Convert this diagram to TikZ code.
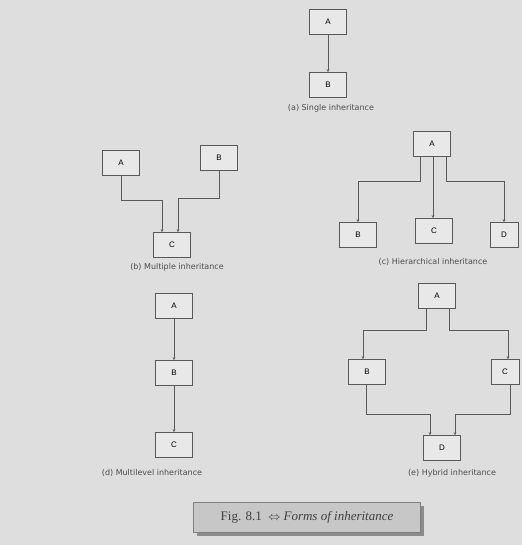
\documentclass[tikz,border=0pt]{standalone}
\usepackage{fontspec}
\setmainfont{Liberation Sans}
\newfontfamily\lblfont{DejaVu Sans}
\newfontfamily\capfont{Liberation Serif}
\usetikzlibrary{arrows.meta}
\begin{document}
\begin{tikzpicture}[x=1pt, y=-1pt,
    cls/.style={draw=black!65, line width=0.6pt, fill=black!9, minimum width=37pt, minimum height=25pt, inner sep=0pt, font=\fontsize{8}{9}\selectfont},
    lbl/.style={text=black!70, font=\lblfont\fontsize{8}{9}\selectfont},
    arr/.style={-{Stealth[length=3pt, width=2.6pt]}, draw=black!65, line width=0.6pt}]
    \useasboundingbox[fill=black!13] (0,0) rectangle (522,545);

    % (a) single
    \node[cls] (sA) at (328,22) {A};
    \node[cls] (sB) at (328,85) {B};
    \node[lbl] (sL) at (331,108) {(a) Single inheritance};
    \draw[arr] (sA) -- (sB);

    % (b) multiple
    \node[cls] (mA) at (121,163) {A};
    \node[cls] (mB) at (219,158) {B};
    \node[cls] (mC) at (172,245) {C};
    \node[lbl] (mL) at (177,267) {(b) Multiple inheritance};
    \draw[arr] (mA.south) -- ++(0,25) -| ([xshift=-10]mC.north);
    \draw[arr] (mB.south) -- ++(0,28) -| ([xshift=6]mC.north);

    % (c) hierarchical
    \node[cls] (hA) at (432,144) {A};
    \node[cls] (hB) at (358,235) {B};
    \node[cls] (hC) at (434,231) {C};
    \node[cls, minimum width=28pt] (hD) at (504,235) {D};
    \node[lbl] (hL) at (433,262) {(c) Hierarchical inheritance};
    \draw[arr] ([xshift=-12]hA.south) -- ++(0,25) -| (hB.north);
    \draw[arr] ([xshift=1]hA.south) -- ([xshift=-1]hC.north);
    \draw[arr] ([xshift=14]hA.south) -- ++(0,25) -| (hD.north);

    % (d) multilevel
    \node[cls] (lA) at (174,306) {A};
    \node[cls] (lB) at (174,373) {B};
    \node[cls] (lC) at (174,445) {C};
    \node[lbl] (lL) at (152,473) {(d) Multilevel inheritance};
    \draw[arr] (lA) -- (lB);
    \draw[arr] (lB) -- (lC);

    % (e) hybrid
    \node[cls] (yA) at (437,296) {A};
    \node[cls] (yB) at (367,372) {B};
    \node[cls, minimum width=28pt] (yC) at (505,372) {C};
    \node[cls] (yD) at (442,448) {D};
    \node[lbl] (yL) at (452,473) {(e) Hybrid inheritance};
    \draw[arr] ([xshift=-11]yA.south) -- ++(0,21) -| ([xshift=-4]yB.north);
    \draw[arr] ([xshift=12]yA.south) -- ++(0,21) -| ([xshift=3]yC.north);
    \draw[arr] ([xshift=-1]yB.south) -- ++(0,29) -| ([xshift=-12]yD.north);
    \draw[arr] ([xshift=5]yC.south) -- ++(0,29) -| ([xshift=13]yD.north);

    % caption
    \fill[black!45] (197,506) rectangle (424,536);
    \node[draw=black!50, fill=black!22, minimum width=227pt, minimum height=30pt, inner sep=0pt,
          font=\capfont\fontsize{13}{15}\selectfont, text=black!75] (cap) at (307,517)
          {Fig. 8.1 \ $\Leftrightarrow$ \textit{Forms of inheritance}};
\end{tikzpicture}
\end{document}
